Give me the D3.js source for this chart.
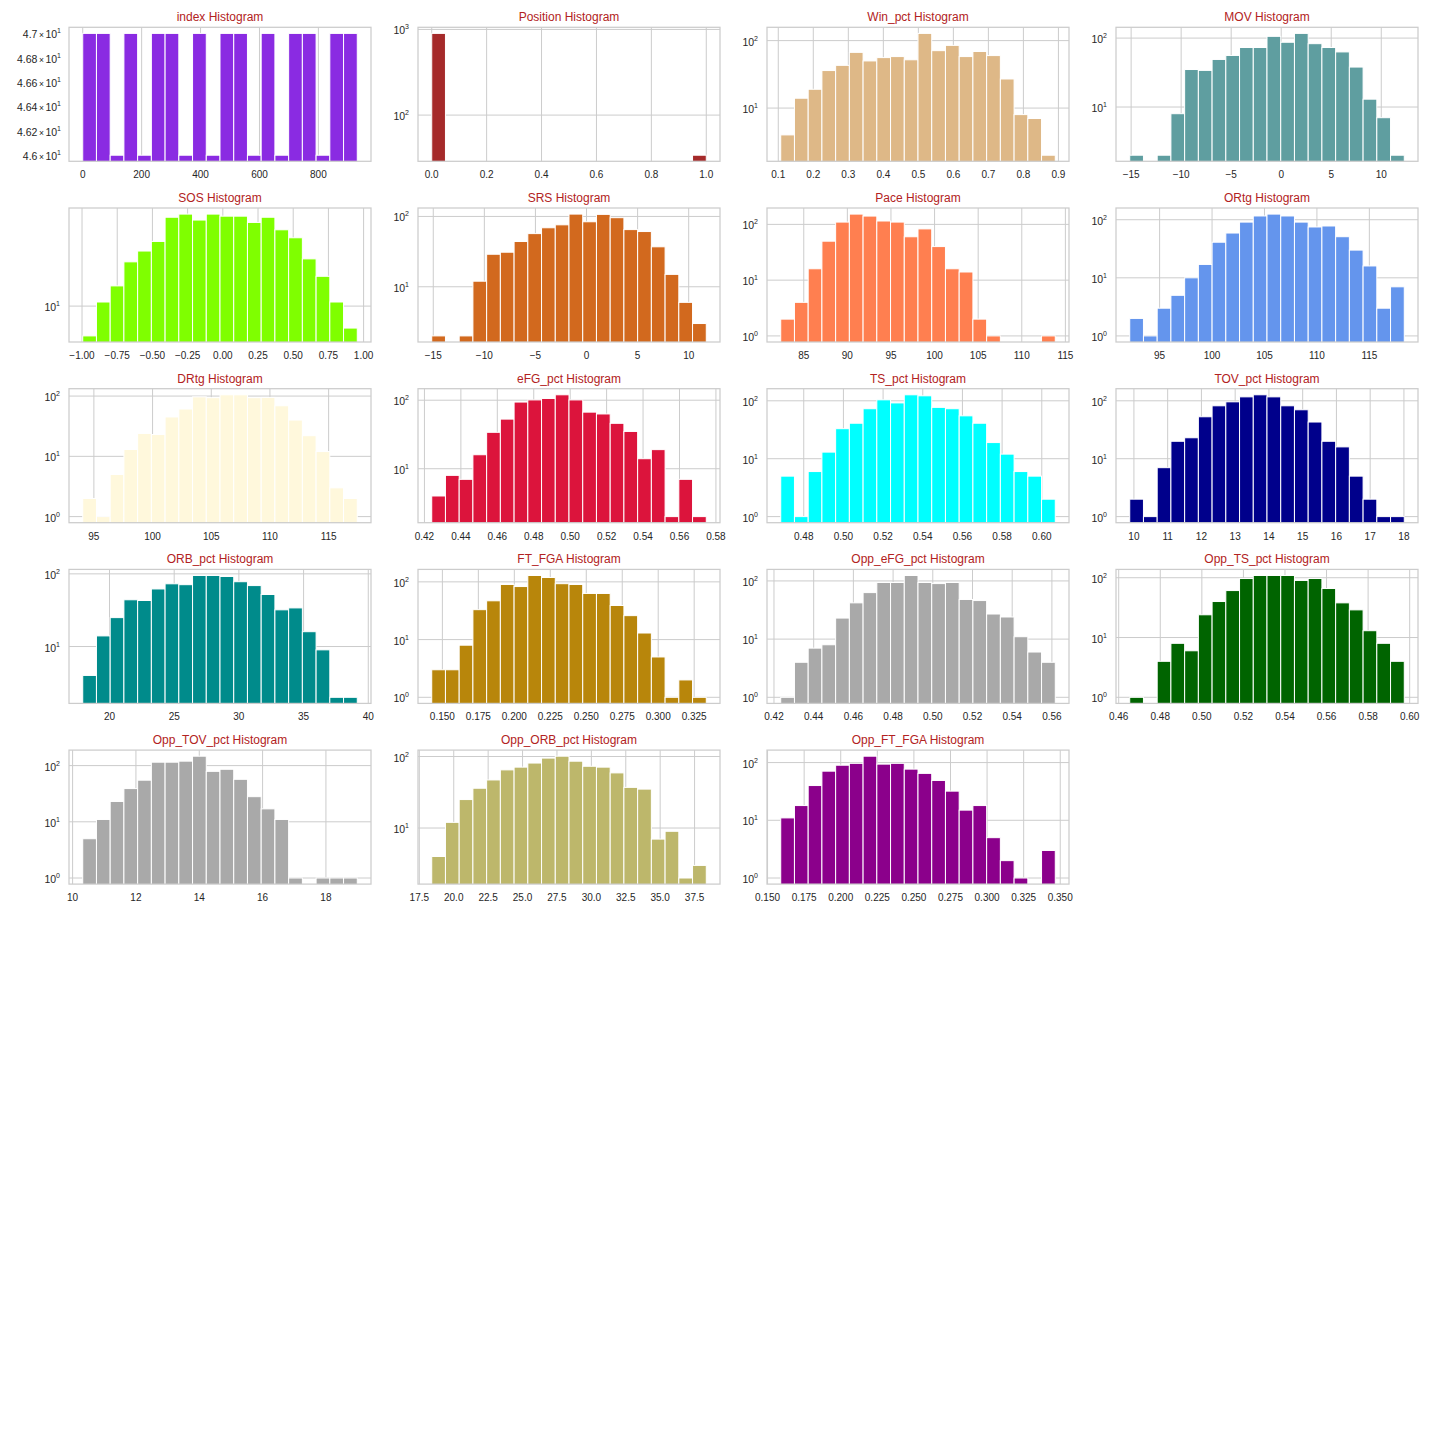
<!DOCTYPE html>
<html><head><meta charset="utf-8">
<script src="https://cdn.jsdelivr.net/npm/d3@7"></script>
<style>body{margin:0;background:#fff}</style>
</head><body><svg id="c" width="1440" height="1440"></svg>
<script>
// ---------------- DATA ----------------
const variables = ["index","Position","Win_pct","MOV","SOS","SRS","Pace","ORtg","DRtg","eFG_pct",
  "TS_pct","TOV_pct","ORB_pct","FT_FGA","Opp_eFG_pct","Opp_TS_pct","Opp_TOV_pct","Opp_ORB_pct","Opp_FT_FGA"];
const barColors = ["#8A2BE2","#A52A2A","#DEB887","#5F9EA0","#7FFF00","#D2691E","#FF7F50","#6495ED","#FFF8DC","#DC143C",
  "#00FFFF","#00008B","#008B8B","#B8860B","#A9A9A9","#006400","#A9A9A9","#BDB76B","#8B008B"];
// data minimum / maximum of each column (bin range, 20 bins)
const binMin = [0, 0, 0.107, -15.14, -0.995, -15.15, 82.36, 92.15, 94.05, 0.424,
  0.4684, 9.876, 17.93, 0.1426, 0.4234, 0.4653, 10.32, 18.40, 0.159];
const binMax = [932, 1, 0.891, 12.3, 0.955, 11.72, 113.84, 118.33, 117.44, 0.5747,
  0.6068, 18.01, 39.15, 0.3334, 0.5617, 0.5974, 18.99, 38.35, 0.3466];

const counts_index      = [47,47,46,47,46,47,47,46,47,46,47,47,46,47,46,47,47,46,47,47];
const counts_Position   = [899,0,0,0,0,0,0,0,0,0,0,0,0,0,0,0,0,0,0,34];
const counts_Win_pct    = [4,14,19,36,43,67,50,56,58,52,128,71,85,58,69,60,27,8,7,2];
const counts_MOV        = [2,0,2,8,35,34,49,56,73,73,106,87,117,83,73,63,38,13,7,2];
const counts_SOS        = [5,11,16,28,36,45,79,85,74,85,81,81,70,79,59,49,30,20,11,6];
const counts_SRS        = [2,0,2,12,29,31,44,57,69,76,108,84,107,96,65,61,37,15,6,3];
const counts_Pace       = [2,4,16,50,110,153,141,115,110,60,83,40,16,14,2,1,0,0,0,1];
const counts_ORtg       = [2,1,3,5,10,17,41,59,91,116,125,116,91,75,78,51,30,16,3,7];
const counts_DRtg       = [2,1,5,13,24,23,45,61,97,94,105,105,94,95,69,40,22,12,3,2];
const counts_eFG_pct    = [4,8,7,16,34,53,94,101,106,120,101,67,63,46,35,14,19,2,7,2];
const counts_TS_pct     = [5,1,6,13,33,41,73,104,92,127,122,77,73,55,41,19,12,6,5,2];
const counts_TOV_pct    = [2,1,7,20,23,53,82,96,117,127,117,82,70,43,20,16,5,2,1,1];
const counts_ORB_pct    = [4,14,25,44,43,62,73,71,95,95,92,78,69,52,32,34,16,9,2,2];
const counts_FT_FGA     = [3,3,8,33,47,90,83,129,119,93,90,63,63,39,26,13,5,1,2,1];
const counts_Opp_eFG    = [1,4,7,8,23,42,63,94,94,124,94,90,94,48,46,27,24,11,6,4];
const counts_Opp_TS     = [1,0,4,8,6,24,40,61,97,109,109,109,90,97,66,38,29,13,8,4];
const counts_Opp_TOV    = [5,11,23,39,55,115,115,120,147,79,86,57,28,17,11,1,0,1,1,1];
const counts_Opp_ORB    = [4,12,25,36,47,65,71,81,95,101,86,73,71,59,37,35,7,9,2,3];
const counts_Opp_FT_FGA = [11,18,40,71,90,97,129,94,97,77,65,49,32,15,18,5,2,1,0,3];

const xTickLabels = [
  ["0","200","400","600","800"],
  ["0.0","0.2","0.4","0.6","0.8","1.0"],
  ["0.1","0.2","0.3","0.4","0.5","0.6","0.7","0.8","0.9"],
  ["\u221215","\u221210","\u22125","0","5","10"],
  ["\u22121.00","\u22120.75","\u22120.50","\u22120.25","0.00","0.25","0.50","0.75","1.00"],
  ["\u221215","\u221210","\u22125","0","5","10"],
  ["85","90","95","100","105","110","115"],
  ["95","100","105","110","115"],
  ["95","100","105","110","115"],
  ["0.42","0.44","0.46","0.48","0.50","0.52","0.54","0.56","0.58"],
  ["0.48","0.50","0.52","0.54","0.56","0.58","0.60"],
  ["10","11","12","13","14","15","16","17","18"],
  ["20","25","30","35","40"],
  ["0.150","0.175","0.200","0.225","0.250","0.275","0.300","0.325"],
  ["0.42","0.44","0.46","0.48","0.50","0.52","0.54","0.56"],
  ["0.46","0.48","0.50","0.52","0.54","0.56","0.58","0.60"],
  ["10","12","14","16","18"],
  ["17.5","20.0","22.5","25.0","27.5","30.0","32.5","35.0","37.5"],
  ["0.150","0.175","0.200","0.225","0.250","0.275","0.300","0.325","0.350"]
];
// y ticks of the "index" panel (minor log ticks, mantissa × 10^1)
const indexYTicks = [46, 46.2, 46.4, 46.6, 46.8, 47];
const indexYLabels = ["4.6","4.62","4.64","4.66","4.68","4.7"];

const allCounts = [counts_index,counts_Position,counts_Win_pct,counts_MOV,counts_SOS,counts_SRS,counts_Pace,
  counts_ORtg,counts_DRtg,counts_eFG_pct,counts_TS_pct,counts_TOV_pct,counts_ORB_pct,counts_FT_FGA,
  counts_Opp_eFG,counts_Opp_TS,counts_Opp_TOV,counts_Opp_ORB,counts_Opp_FT_FGA];

// ---------------- DRAW ----------------
const FONT = "'Liberation Sans', Arial, Helvetica, sans-serif";
const svg = d3.select("#c");
svg.append("rect").attr("width",1440).attr("height",1440).attr("fill","#fff");
const colLeft = [69, 418, 767, 1116], W = 302, H = 134;
const rowTop0 = 27.3, rowPitch = 180.7;
const gridColor = "#cccccc", textColor = "#262626";
const defs = svg.append("defs");

variables.forEach((name, i) => {
  const r = Math.floor(i / 4), c = i % 4;
  const left = colLeft[c], top = rowTop0 + r * rowPitch;
  const counts = allCounts[i];
  const lo = binMin[i], hi = binMax[i], span = hi - lo;
  const x = d3.scaleLinear().domain([lo - 0.05 * span, hi + 0.05 * span]).range([left, left + W]);
  const pos = counts.filter(v => v > 0);
  const lmin = Math.log10(d3.min(pos)), lmax = Math.log10(d3.max(pos)), R = lmax - lmin;
  const y = d3.scaleLog().domain([Math.pow(10, lmin - 0.05 * R), Math.pow(10, lmax + 0.05 * R)]).range([top + H, top]);
  const bins = d3.range(20).map(k => ({x0: lo + k * span / 20, x1: lo + (k + 1) * span / 20, n: counts[k]}));

  const g = svg.append("g");
  defs.append("clipPath").attr("id", "clip" + i).append("rect")
    .attr("x", left).attr("y", top).attr("width", W).attr("height", H);

  // grid
  const xTicks = xTickLabels[i].map(s => +s.replace("\u2212", "-"));
  g.selectAll(".vg").data(xTicks).enter().append("line")
    .attr("x1", d => x(d)).attr("x2", d => x(d)).attr("y1", top).attr("y2", top + H)
    .attr("stroke", gridColor).attr("stroke-width", 1);
  let yTicks = [];
  if (i !== 0) {
    const [d0, d1] = y.domain();
    for (let e = Math.ceil(Math.log10(d0)); e <= Math.floor(Math.log10(d1)); e++) yTicks.push(e);
    g.selectAll(".hg").data(yTicks).enter().append("line")
      .attr("x1", left).attr("x2", left + W).attr("y1", d => y(Math.pow(10, d))).attr("y2", d => y(Math.pow(10, d)))
      .attr("stroke", gridColor).attr("stroke-width", 1);
  }

  // bars
  g.append("g").attr("clip-path", "url(#clip" + i + ")")
    .selectAll("rect").data(bins.filter(b => b.n > 0)).enter().append("rect")
    .attr("x", b => x(b.x0)).attr("width", b => x(b.x1) - x(b.x0))
    .attr("y", b => y(b.n)).attr("height", b => top + H + 5 - y(b.n))
    .attr("fill", barColors[i]).attr("stroke", "#fff").attr("stroke-width", 1);

  // frame
  g.append("rect").attr("x", left).attr("y", top).attr("width", W).attr("height", H)
    .attr("fill", "none").attr("stroke", gridColor).attr("stroke-width", 1.25);

  // x tick labels
  g.selectAll(".xl").data(xTickLabels[i]).enter().append("text")
    .attr("x", (d, k) => x(xTicks[k])).attr("y", top + H + 17)
    .attr("text-anchor", "middle").attr("font-family", FONT).attr("font-size", 10)
    .attr("fill", textColor).text(d => d);

  // y tick labels
  if (i === 0) {
    indexYTicks.forEach((v, k) => {
      const t = g.append("text").attr("x", left - 8).attr("y", y(v) + 5)
        .attr("text-anchor", "end").attr("font-family", FONT).attr("font-size", 10.5).attr("fill", textColor);
      t.append("tspan").text(indexYLabels[k]);
      t.append("tspan").attr("font-size", 8.5).attr("dx", 1.5).text("\u00d7");
      t.append("tspan").attr("font-size", 10.5).attr("dx", 1.5).text("10");
      t.append("tspan").attr("font-size", 7).attr("dy", -5).text("1");
    });
  } else {
    yTicks.forEach(e => {
      const t = g.append("text").attr("x", left - 9).attr("y", y(Math.pow(10, e)) + 5)
        .attr("text-anchor", "end").attr("font-family", FONT).attr("font-size", 10.5).attr("fill", textColor);
      t.append("tspan").text("10");
      t.append("tspan").attr("font-size", 7).attr("dy", -5).text(String(e));
    });
  }

  // title
  g.append("text").attr("x", left + W / 2).attr("y", top - 6)
    .attr("text-anchor", "middle").attr("font-family", FONT).attr("font-size", 12)
    .attr("fill", "#B22222").text(name + " Histogram");
});
</script>
</body></html>
